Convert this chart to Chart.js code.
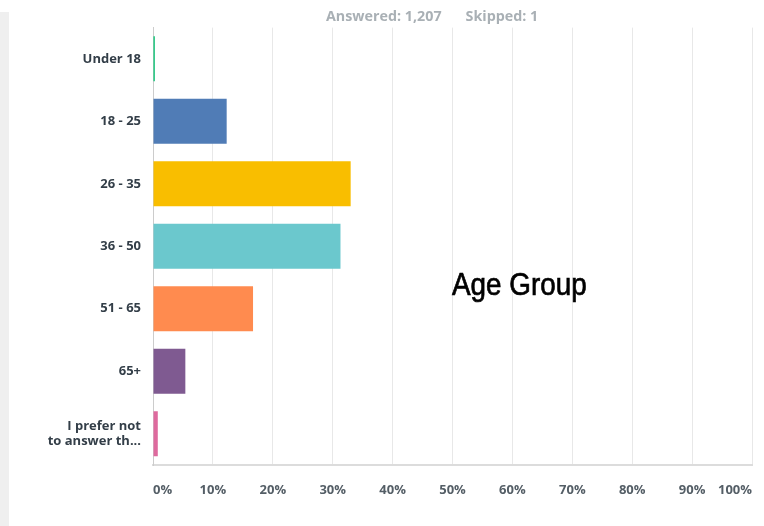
<!DOCTYPE html>
<html>
<head>
<meta charset="utf-8">
<script src="https://cdn.jsdelivr.net/npm/chart.js@4.4.0/dist/chart.umd.min.js"></script>
<style>
  body { margin: 0; background: #fff; }
  #wrap { position: relative; width: 764px; height: 526px; overflow: hidden; }
  #strip { position: absolute; left: 0; top: 12px; width: 9px; height: 514px; background: #efefef; }
  #stats { position: absolute; left: 326px; top: 6px; font: bold 14.3px "Open Sans", sans-serif; color: #a9b0b5; white-space: nowrap; }
  #stats span { margin-left: 24px; }
  #label { position: absolute; left: 452px; top: 266px; font: 32px "Liberation Sans", Arial, sans-serif; color: #000; white-space: nowrap; transform: scaleX(0.87); transform-origin: left top; -webkit-text-stroke: 0.7px #000; }
  canvas { position: absolute; left: 0; top: 0; }
</style>
</head>
<body>
<div id="wrap">
  <div id="strip"></div>
  <canvas id="chart" width="764" height="526"></canvas>
  <div id="stats">Answered: 1,207<span>Skipped: 1</span></div>
  <div id="label">Age Group</div>
</div>
<script>
'use strict'

var categories = ['Under 18', '18 - 25', '26 - 35', '36 - 50', '51 - 65', '65+', ['I prefer not', 'to answer th...']]
var percents = [0.3, 12.3, 33.0, 31.3, 16.7, 5.4, 0.8]
var barColors = ['#00bf6f', '#507cb6', '#f9be00', '#6bc8cd', '#ff8b4f', '#7f5a91', '#de6a9e']
var xTicks = [0, 10, 20, 30, 40, 50, 60, 70, 80, 90, 100]

var ctx = document.getElementById('chart')
new Chart(ctx, {
    type: 'bar',
    data: {
        labels: categories,
        datasets: [{
            data: percents,
            backgroundColor: barColors,
            borderWidth: 0,
            barPercentage: 0.72,
            categoryPercentage: 1
        }]
    },
    options: {
        indexAxis: 'y',
        responsive: false,
        animation: false,
        layout: { padding: { top: 27, right: 12, left: 0, bottom: 0 } },
        plugins: { legend: { display: false }, tooltip: { enabled: false } },
        scales: {
            x: {
                min: xTicks[0],
                max: xTicks[xTicks.length - 1],
                afterBuildTicks: function (scale) {
                    scale.ticks = xTicks.map(function (v) { return { value: v } })
                },
                afterFit: function (scale) {
                    scale.height = 61
                    scale.paddingRight = 0
                    scale.paddingLeft = 0
                },
                grid: { color: '#e8e8e8', drawTicks: false },
                border: { color: '#dcdcdc', width: 2 },
                ticks: {
                    align: 'inner',
                    padding: 17,
                    color: '#545e66',
                    font: { family: 'Open Sans', size: 13, weight: 'bold' },
                    callback: function (v) { return v + '%' }
                }
            },
            y: {
                afterFit: function (scale) { scale.width = 153 },
                grid: { display: false, drawTicks: false },
                border: { color: '#cccccc', width: 1 },
                ticks: {
                    padding: 12,
                    color: '#333e48',
                    font: { family: 'Open Sans', size: 13, weight: 'bold' }
                }
            }
        }
    }
})
</script>
</body>
</html>
